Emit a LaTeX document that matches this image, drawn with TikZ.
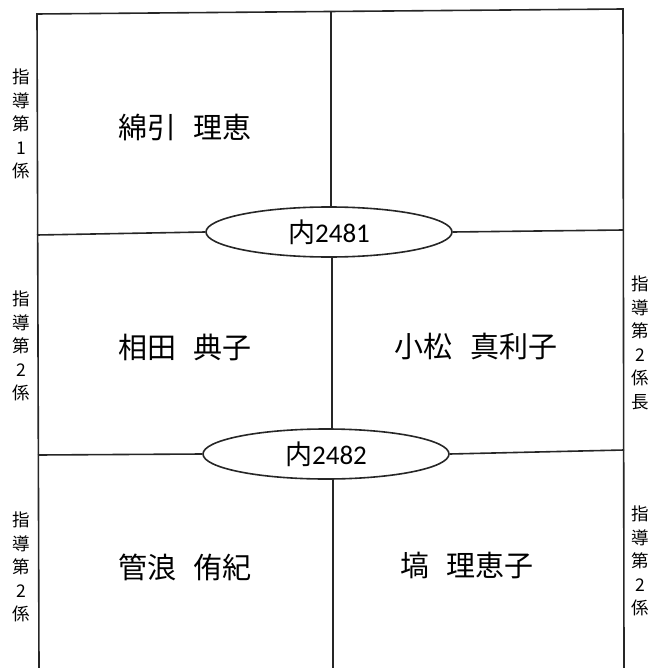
\documentclass[tikz,border=0pt]{standalone}
\usepackage{fontspec}
\setmainfont{Noto Sans CJK JP}
\newfontfamily\digitfont{Carlito}
\usetikzlibrary{shapes.geometric}
\begin{document}
\begin{tikzpicture}[x=1pt,y=-1pt,
  frame/.style={line width=1.6pt, black!85},
  phone/.style={ellipse, draw=black!85, line width=1.6pt, minimum width=246pt, minimum height=50pt, inner sep=0pt, fill=white, font=\fontsize{27}{27}\selectfont},
  person/.style={font=\fontsize{29}{29}\selectfont, inner sep=0pt},
  side/.style={font=\fontsize{17.5}{23.5}\selectfont, align=center, inner sep=0pt}]
\useasboundingbox (0,0) rectangle (653,668);
% frame corners
\coordinate (tl) at (37,14);
\coordinate (tr) at (623,9);
\coordinate (bl) at (39,668);
\coordinate (br) at (624,668);
\coordinate (mt) at (331,12);
\coordinate (mm) at (332,340);
\coordinate (mb) at (333,668);
\coordinate (l1) at (37,235);
\coordinate (r1) at (623,230);
\coordinate (l2) at (38,455);
\coordinate (r2) at (624,450);
% frame
\draw[frame] (bl) -- (tl) -- (tr) -- (br);
% phone ellipses
\node[phone] (e1) at (329,232) {内{\digitfont 2481}};
\node[phone] (e2) at (326,454) {内{\digitfont 2482}};
% inner lines
\draw[frame] (mt) -- (e1.north -| mt);
\draw[frame] (e1.south -| mm) -- (e2.north -| mm);
\draw[frame] (e2.south -| mb) -- (mb);
\draw[frame] (l1) -- (e1.west);
\draw[frame] (e1.east) -- (r1);
\draw[frame] (l2) -- (e2.west);
\draw[frame] (e2.east) -- (r2);
% names
\node[person] (n1) at (185,127) {綿引\hspace{0.6em}理恵};
\node[person] (n2) at (185,347) {相田\hspace{0.6em}典子};
\node[person] (n3) at (476,347) {小松\hspace{0.6em}真利子};
\node[person] (n4) at (185,567) {管浪\hspace{0.6em}侑紀};
\node[person] (n5) at (467,566) {塙\hspace{0.6em}理恵子};
% side labels
\node[side] (s1) at (21,124) {指\\導\\第\\1\\係};
\node[side] (s2) at (21,346) {指\\導\\第\\2\\係};
\node[side] (s3) at (21,567) {指\\導\\第\\2\\係};
\node[side] (s4) at (640,343) {指\\導\\第\\2\\係\\長};
\node[side] (s5) at (640,561) {指\\導\\第\\2\\係};
\end{tikzpicture}
\end{document}
